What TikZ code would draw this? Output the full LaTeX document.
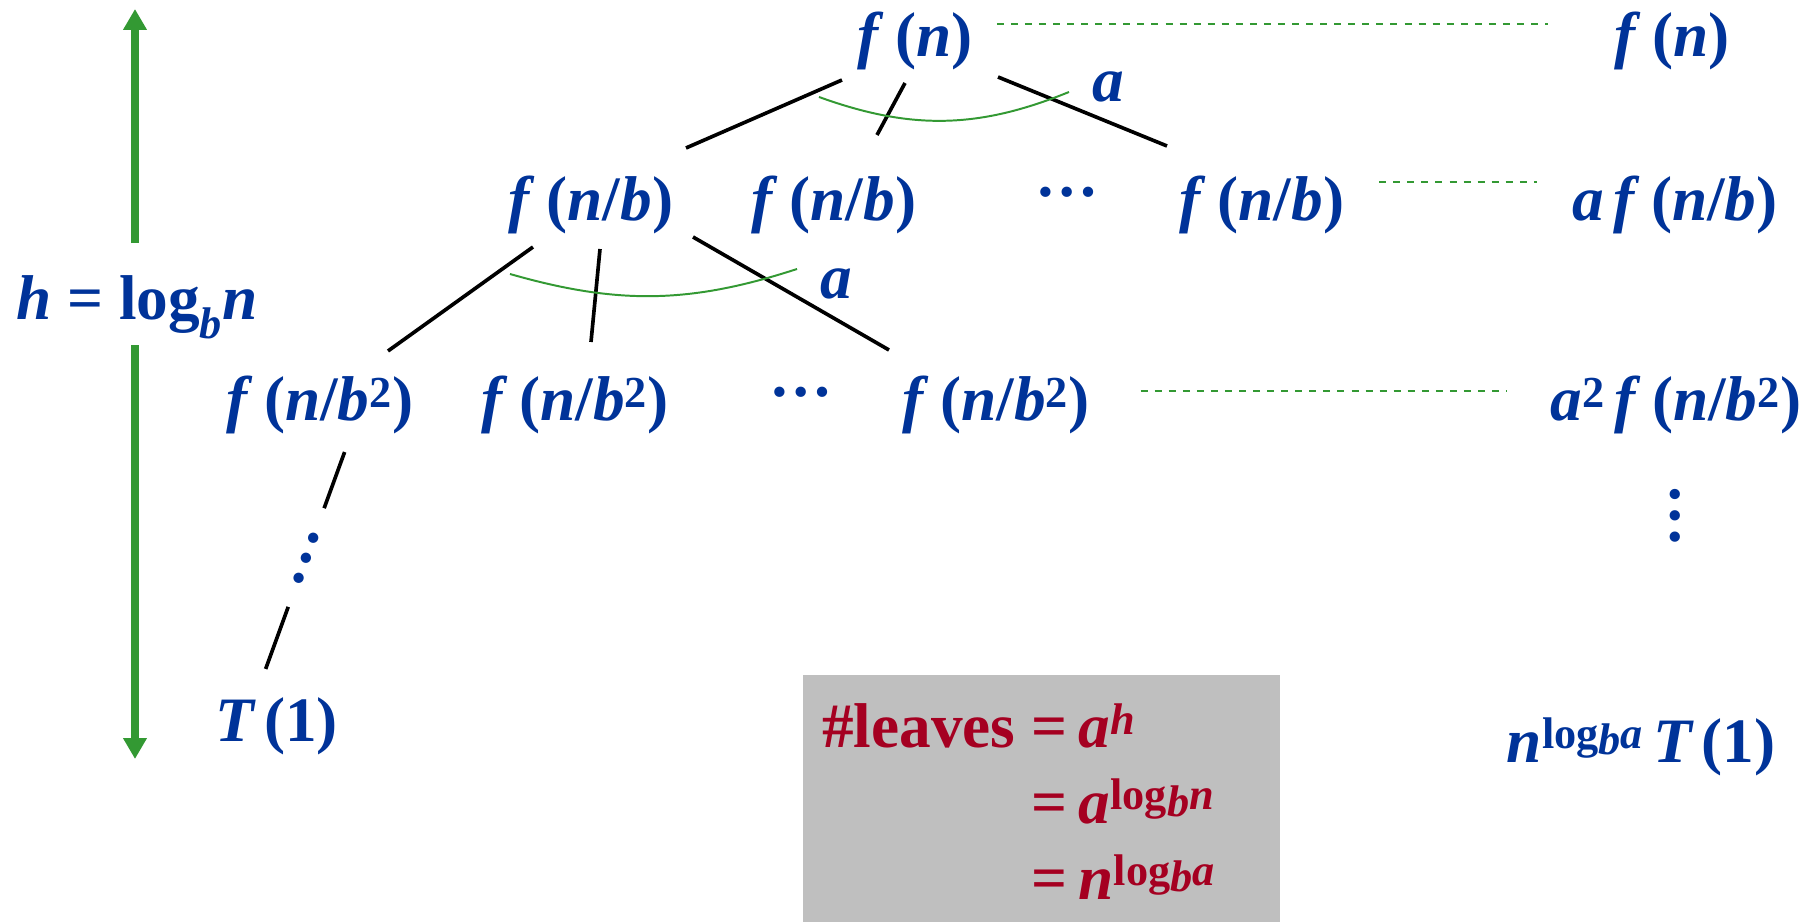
\documentclass[tikz,border=0pt]{standalone}
\usepackage{fontspec}
\setmainfont{Liberation Serif}
\usetikzlibrary{arrows.meta,calc}
\definecolor{ink}{HTML}{003399}
\definecolor{wine}{HTML}{A50021}
\definecolor{leaf}{HTML}{339933}
\definecolor{shade}{HTML}{BFBFBF}
\newcommand\iv[1]{\textit{#1}}
\newcommand\fn[1]{\iv{f}\hspace{.18em}(#1)}
\newcommand\logb[1]{log\raisebox{-.3ex}{\iv{b}}\iv{#1}}
\newcommand\eqto{=\hspace{.18em}}

\begin{document}
\begin{tikzpicture}[font=\fontsize{45}{54}\selectfont\bfseries,
  term/.style={text=ink,anchor=base,inner sep=.15cm},
  edge/.style={line width=2.6pt},
  span/.style={leaf,line width=1.4pt},
  level/.style={leaf,line width=1.4pt,dash pattern=on 5pt off 5pt},
  height/.style={leaf,line width=.19cm,-{Triangle[length=.52cm,width=.56cm]}}]
  \useasboundingbox (0,0) rectangle (45.4,23.025);

  % tree levels
  \node[term] (root) at (22.875,21.6) {\fn{\iv{n}}};
  \node[term] (c1) at (14.775,17.52) {\fn{\iv{n}/\iv{b}}};
  \node[term] (c2) at (20.85,17.52) {\fn{\iv{n}/\iv{b}}};
  \node[term] (c3) at (26.675,17.52) {\raisebox{.38em}{…}};
  \node[term] (c4) at (31.55,17.52) {\fn{\iv{n}/\iv{b}}};
  \node[term] (d1) at (8.0,12.52) {\fn{\iv{n}/\iv{b}\textsuperscript{2}}};
  \node[term] (d2) at (14.375,12.52) {\fn{\iv{n}/\iv{b}\textsuperscript{2}}};
  \node[term] (d3) at (20.025,12.52) {\raisebox{.38em}{…}};
  \node[term] (d4) at (24.9,12.52) {\fn{\iv{n}/\iv{b}\textsuperscript{2}}};
  \node[term,anchor=center,rotate=70] (vd) at (7.65,9.075) {…};
  \node[term] (t1) at (6.925,4.48) {\iv{T}\hspace{.12em}(1)};

  % cost of each level
  \node[term] (r0) at (41.8,21.6) {\fn{\iv{n}}};
  \node[term] (r1) at (41.875,17.52) {\iv{a}\hspace{.15em}\fn{\iv{n}/\iv{b}}};
  \node[term] (r2) at (41.9,12.52)
    {\iv{a}\textsuperscript{2}\hspace{.15em}\fn{\iv{n}/\iv{b}\textsuperscript{2}}};
  \node[term,anchor=center,rotate=90] (rv) at (41.875,10.125) {…};
  \node[term] (r3) at (41.025,3.975)
    {\iv{n}\textsuperscript{\logb{a}}\hspace{.15em}\iv{T}\hspace{.12em}(1)};

  \draw[edge] ([shift={(-1.825,-.575)}]root.base) -- ([shift={(2.375,1.805)}]c1.base);
  \draw[edge] ([shift={(-.25,-.65)}]root.base) -- ([shift={(1.075,2.13)}]c2.base);
  \draw[edge] ([shift={(2.075,-.5)}]root.base) -- ([shift={(-2.375,1.855)}]c4.base);
  \draw[edge] ([shift={(-1.45,-.67)}]c1.base) -- ([shift={(1.7,1.73)}]d1.base);
  \draw[edge] ([shift={(.225,-.72)}]c1.base) -- ([shift={(.4,1.955)}]d2.base);
  \draw[edge] ([shift={(2.55,-.42)}]c1.base) -- ([shift={(-2.675,1.755)}]d4.base);

  \coordinate (d1foot) at (8.725,12.025);
  \coordinate (t1head) at (6.45,5.775);
  \draw[edge,shorten <=.32cm,shorten >=1.325cm] (d1foot) -- (vd.center);
  \draw[edge,shorten <=1.3cm,shorten >=.56cm] (vd.center) -- (t1head);

  % branching factor
  \coordinate (s0) at (20.475,20.6);
  \coordinate (e0) at (26.725,20.725);
  \draw[span] (s0) to[bend right=21] (e0);
  \node[term,anchor=center] (a0) at (27.7,20.85) {\iv{a}};
  \coordinate (s1) at (12.75,16.175);
  \coordinate (e1) at (19.925,16.3);
  \draw[span] (s1) to[bend right=17] (e1);
  \node[term,anchor=center] (a1) at (20.9,15.92) {\iv{a}};

  \draw[level,shorten <=.45cm,shorten >=1.5cm]
    ([yshift=.43cm]root.east) -- ([yshift=.43cm]r0.west);
  \draw[level,shorten <=.72cm,shorten >=.72cm]
    ([yshift=.56cm]c4.east) -- ([yshift=.56cm]r1.west);
  \draw[level,shorten <=1.12cm,shorten >=.92cm]
    ([yshift=.33cm]d4.east) -- ([yshift=.33cm]r2.west);

  % height
  \node[term] (hl) at (3.425,15.025) {\iv{h} = log\textsubscript{\iv{b}}\iv{n}};
  \coordinate (htop) at (3.375,22.8);
  \coordinate (hbot) at (3.375,4.05);
  \draw[height,shorten <=.67cm] (hl.north -| htop) -- (htop);
  \draw[height] (hl.south -| hbot) -- (hbot);

  % number of leaves
  \node[fill=shade,text=wine,anchor=north west,inner xsep=.475cm,
    text width=10.975cm,minimum height=6.65cm,align=left] (lv) at (20.075,6.15)
    {\begin{tabular}{@{}r@{\hspace{.25em}}l@{}}
      \#leaves & \eqto\iv{a}\textsuperscript{\iv{h}}\\
               & \eqto\iv{a}\textsuperscript{\logb{n}}\\
               & \eqto\iv{n}\textsuperscript{\logb{a}}
     \end{tabular}};
\end{tikzpicture}
\end{document}
